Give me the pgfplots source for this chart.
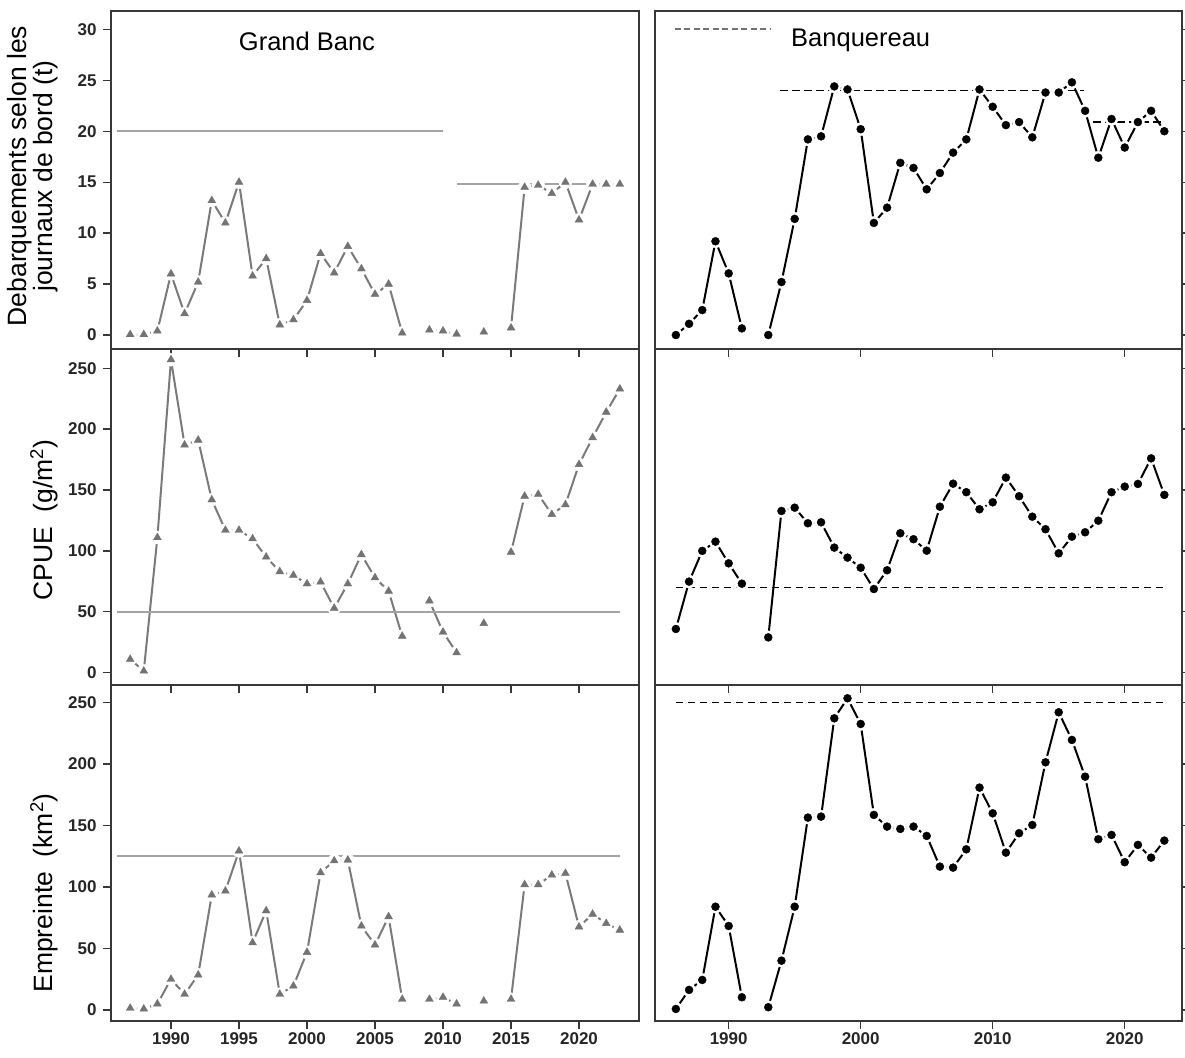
\documentclass[border=0pt]{standalone}
\usepackage{fontspec}
\setmainfont{Liberation Sans}
\usepackage{pgfplots}
\usepackage{pgfplotstable}
\pgfplotsset{compat=1.18}

\definecolor{gbline}{HTML}{7A7A7A}
\definecolor{gbmark}{HTML}{737373}
\definecolor{gbref}{HTML}{A4A4A4}
\definecolor{framec}{HTML}{383838}

\pgfplotstableread{
year land cpue emp
1987 0.05 11 1.4
1988 0.05 1.4 0.8
1989 0.4 111 4.9
1990 6.0 257 25
1991 2.1 187 12.8
1992 5.2 191 28.5
1993 13.2 142 93.6
1994 11.0 117 96.8
1995 15.0 117 129.4
1996 5.8 110 54.7
1997 7.5 95 80.7
1998 1.0 83 12.8
1999 1.5 80 19.5
2000 3.4 73 46.9
2001 8.0 74.5 111.7
2002 6.1 53 121.4
2003 8.7 73 122
2004 6.5 97 68.3
2005 4.0 78 52.9
2006 5.0 67 75.9
2007 0.2 30 8.7
2008 nan nan nan
2009 0.5 59 8.7
2010 0.4 33.4 10.3
2011 0.1 16.4 4.9
2012 nan nan nan
2013 0.3 40.5 7.3
2014 nan nan nan
2015 0.7 99 8.7
2016 14.5 145 102
2017 14.7 146.5 102
2018 13.9 130 109.8
2019 15.0 138 111.2
2020 11.3 171 67.6
2021 14.8 193 78
2022 14.8 214 70.4
2023 14.8 233 65
}\gb

\pgfplotstableread{
year land cpue emp
1986 0 35.9 0.8
1987 1.1 74.8 16.3
1988 2.45 100 24.4
1989 9.2 107.6 84
1990 6.05 89.8 68.3
1991 0.65 73.1 10.3
1992 nan nan nan
1993 0 29 2.2
1994 5.2 132.8 40.1
1995 11.4 135.5 84
1996 19.2 122.7 156.5
1997 19.5 123.5 157.3
1998 24.4 102.7 237.3
1999 24.1 94.5 253.6
2000 20.2 86.2 232.7
2001 11.0 68.7 158.7
2002 12.5 84.1 149.2
2003 16.9 114.5 147.3
2004 16.4 109.6 149.2
2005 14.3 100.2 141.6
2006 15.9 136.3 116.6
2007 17.9 155.2 115.8
2008 19.2 148.2 130.7
2009 24.1 134.2 180.9
2010 22.4 139.9 160
2011 20.6 160.2 128
2012 20.9 144.9 143.8
2013 19.4 128.1 150.5
2014 23.8 117.8 201.5
2015 23.8 98 242.2
2016 24.8 111.7 219.7
2017 22.0 115.3 189.8
2018 17.4 124.8 138.9
2019 21.2 148.2 142.4
2020 18.4 152.8 120.2
2021 20.9 155 134.3
2022 22.0 176 123.9
2023 20.0 146 137.8
}\bq

\pgfplotsset{
  panel/.style={
    scale only axis, width=528pt, height=336pt, anchor=south west,
    axis on top,
    axis line style={framec, line width=1.3pt},
    every tick/.style={framec, line width=1.3pt},
    major tick length=8pt, tick align=outside,
    xtick pos=bottom,
    tick label style={font=\fontsize{17}{17}\selectfont\bfseries, text=black!85},
    yticklabel style={xshift=-3pt},
    /pgf/number format/assume math mode=true,
    /pgf/number format/1000 sep={},
    unbounded coords=jump,
    clip=false,
  },
  leftpanel/.style={panel, xmin=1985.59, xmax=2024.41, xtick={1990,1995,...,2020}, ytick pos=left},
  rightpanel/.style={panel, width=527pt, xmin=1984.42, xmax=2024.34, xtick={1990,2000,2010,2020}, ytick pos=right, yticklabels={}},
  toprow/.style={height=338pt, ymin=-1.37, ymax=31.8, ytick={0,5,...,30}, xticklabels={}},
  midrow/.style={ymin=-10.1, ymax=265.8, ytick={0,50,...,250}, xticklabels={}},
  botrow/.style={ymin=-9, ymax=264.4, ytick={0,50,...,250}},
  gbl/.style={gbline, line width=2pt, no marks},
  bql/.style={black, line width=2pt, no marks},
  gapm/.style={white, only marks, mark=*, mark size=6.5pt},
  gbm/.style={gbmark, only marks, mark=triangle*, mark size=4.5pt},
  bqm/.style={black, only marks, mark=*, mark size=4pt},
  gbr/.style={gbref, line width=1.7pt, no marks},
  bqr/.style={black, line width=1.3pt, no marks, dash pattern=on 7.5pt off 4.5pt},
}

\begin{document}
\begin{tikzpicture}
\path[use as bounding box] (0,0) rectangle (1185pt,1057pt);

% ---------- Grand Banc ----------
\begin{axis}[leftpanel, toprow, at={(111pt,708pt)}]
\addplot[gbl] table[x=year,y=land] {\gb};
\addplot[gapm] table[x=year,y=land] {\gb};
\addplot[gbm] table[x=year,y=land] {\gb};
\addplot[gbr] coordinates {(1986,20) (2010,20)};
\addplot[gbr] coordinates {(2011,14.8) (2023.2,14.8)};
\node[anchor=base, font=\fontsize{25.5}{26}\selectfont] at (axis cs:2000,27.9) {Grand Banc};
\end{axis}

\begin{axis}[leftpanel, midrow, at={(111pt,372pt)}]
\addplot[gbl] table[x=year,y=cpue] {\gb};
\addplot[gapm] table[x=year,y=cpue] {\gb};
\addplot[gbm] table[x=year,y=cpue] {\gb};
\addplot[gbr] coordinates {(1986,50) (2023,50)};
\end{axis}

\begin{axis}[leftpanel, botrow, at={(111pt,36pt)}]
\addplot[gbl] table[x=year,y=emp] {\gb};
\addplot[gapm] table[x=year,y=emp] {\gb};
\addplot[gbm] table[x=year,y=emp] {\gb};
\addplot[gbr] coordinates {(1986,125) (2023,125)};
\end{axis}

% ---------- Banquereau ----------
\begin{axis}[rightpanel, toprow, at={(655pt,708pt)}]
\addplot[bql] table[x=year,y=land] {\bq};
\addplot[gapm] table[x=year,y=land] {\bq};
\addplot[bqm] table[x=year,y=land] {\bq};
\addplot[bqr] coordinates {(1993.9,24) (2016.9,24)};
\addplot[bqr] coordinates {(2017.6,20.9) (2023,20.9)};
\addplot[black!55, line width=1.8pt, no marks, dash pattern=on 6pt off 3.5pt] coordinates {(1985.9,30) (1993.1,30)};
\node[anchor=base, font=\fontsize{25.5}{26}\selectfont] at (axis cs:2000,28.3) {Banquereau};
\end{axis}

\begin{axis}[rightpanel, midrow, at={(655pt,372pt)}]
\addplot[bql] table[x=year,y=cpue] {\bq};
\addplot[gapm] table[x=year,y=cpue] {\bq};
\addplot[bqm] table[x=year,y=cpue] {\bq};
\addplot[bqr] coordinates {(1986,70) (2023,70)};
\end{axis}

\begin{axis}[rightpanel, botrow, at={(655pt,36pt)}]
\addplot[bql] table[x=year,y=emp] {\bq};
\addplot[gapm] table[x=year,y=emp] {\bq};
\addplot[bqm] table[x=year,y=emp] {\bq};
\addplot[bqr] coordinates {(1986,250) (2023,250)};
\end{axis}

% ---------- y labels ----------
\node[rotate=90, align=center, font=\fontsize{26.5}{26}\selectfont] at (33pt,881pt) {Debarquements selon les\\journaux de bord (t)};
\node[rotate=90, font=\fontsize{26.5}{26}\selectfont] at (44pt,537pt) {CPUE\ \ (g/m\textsuperscript{2})};
\node[rotate=90, font=\fontsize{26.5}{26}\selectfont] at (44pt,164pt) {Empreinte\ \ (km\textsuperscript{2})};
\end{tikzpicture}
\end{document}
